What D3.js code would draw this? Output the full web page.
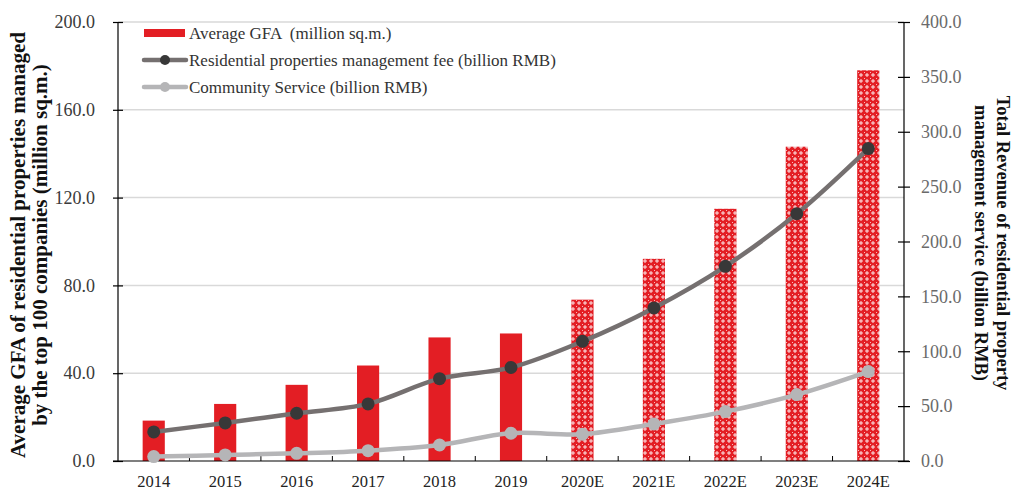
<!DOCTYPE html>
<html>
<head>
<meta charset="utf-8">
<script src="https://cdn.jsdelivr.net/npm/d3@7"></script>
<style>
  body { margin: 0; background: #fff; }
  svg { display: block; font-family: "Liberation Serif", "Times New Roman", serif; }
</style>
</head>
<body>
<div id="chart"></div>
<script>
// chart data
var years = ["2014", "2015", "2016", "2017", "2018", "2019", "2020E", "2021E", "2022E", "2023E", "2024E"];
var estimated = [false, false, false, false, false, false, true, true, true, true, true];
var avgGFA = [18.4, 26.0, 34.7, 43.5, 56.3, 58.1, 73.5, 92.1, 114.9, 143.2, 178.0];
var mgmtFee = [26.5, 34.7, 43.5, 52.0, 75.0, 85.2, 109.0, 139.5, 177.4, 225.3, 284.7];
var communityService = [4.0, 5.5, 7.0, 9.4, 14.6, 25.3, 24.4, 33.8, 45.0, 60.5, 81.5];
var leftTicks = [0, 40, 80, 120, 160, 200];
var rightTicks = [0, 50, 100, 150, 200, 250, 300, 350, 400];
var legendLabels = ["Average GFA  (million sq.m.)", "Residential properties management fee (billion RMB)", "Community Service (billion RMB)"];

var width = 1012, height = 493;
var margin = { top: 22, right: 108, bottom: 32, left: 118 };

var red = "#e31e24", darkLine = "#757070", darkDot = "#383838", lightLine = "#b5b5b7";

var svg = d3.select("#chart").append("svg")
    .attr("width", width)
    .attr("height", height);

// pattern for the estimated bars
var defs = svg.append("defs");
var pat = defs.append("pattern")
    .attr("id", "estPattern")
    .attr("patternUnits", "userSpaceOnUse")
    .attr("width", 6)
    .attr("height", 6);
pat.append("rect").attr("width", 6).attr("height", 6).attr("fill", red);
pat.append("rect").attr("x", 2.5).attr("y", 1).attr("width", 1).attr("height", 4).attr("fill", "#fff").attr("opacity", 0.85);
pat.append("rect").attr("x", 1).attr("y", 2.5).attr("width", 4).attr("height", 1).attr("fill", "#fff").attr("opacity", 0.85);
pat.append("rect").attr("x", 0).attr("y", 0).attr("width", 1).attr("height", 1).attr("fill", "#f7b9bb");

var x = d3.scaleBand()
    .domain(years)
    .range([margin.left, width - margin.right]);

var yLeft = d3.scaleLinear()
    .domain([0, 200])
    .range([height - margin.bottom, margin.top]);

var yRight = d3.scaleLinear()
    .domain([0, 400])
    .range([height - margin.bottom, margin.top]);

// gridlines
svg.append("g")
    .selectAll("line")
    .data(leftTicks.filter(function(d){ return d > 0; }))
    .join("line")
    .attr("x1", margin.left)
    .attr("x2", width - margin.right)
    .attr("y1", function(d){ return yLeft(d); })
    .attr("y2", function(d){ return yLeft(d); })
    .attr("stroke", "#d9d9d9")
    .attr("stroke-width", 1.5);

// bars
var barW = x.bandwidth() * 0.31;
svg.append("g")
    .selectAll("rect")
    .data(years)
    .join("rect")
    .attr("x", function(d){ return x(d) + (x.bandwidth() - barW) / 2; })
    .attr("y", function(d, i){ return yLeft(avgGFA[i]); })
    .attr("width", barW)
    .attr("height", function(d, i){ return yLeft(0) - yLeft(avgGFA[i]); })
    .attr("fill", function(d, i){ return estimated[i] ? "url(#estPattern)" : red; });

// axes
var leftAxis = svg.append("g")
    .attr("transform", `translate(${margin.left},0)`)
    .call(d3.axisLeft(yLeft).tickValues(leftTicks).tickFormat(d3.format(".1f")).tickSize(5).tickPadding(18));
leftAxis.selectAll(".tick line").attr("x1", 5).attr("x2", -5);

var rightAxis = svg.append("g")
    .attr("transform", `translate(${width - margin.right},0)`)
    .call(d3.axisRight(yRight).tickValues(rightTicks).tickFormat(d3.format(".1f")).tickSize(5).tickPadding(12));
rightAxis.selectAll(".tick line").attr("x1", -6).attr("x2", 6);

var bottomAxis = svg.append("g")
    .attr("transform", `translate(0,${height - margin.bottom})`)
    .call(d3.axisBottom(x).tickSize(0).tickPadding(14));

// ticks between categories on the x axis, pointing up
bottomAxis.selectAll(".sep")
    .data(years.slice(1))
    .join("line")
    .attr("class", "sep")
    .attr("x1", function(d){ return x(d); })
    .attr("x2", function(d){ return x(d); })
    .attr("y1", 0)
    .attr("y2", -5)
    .attr("stroke", "#000");

[leftAxis, rightAxis, bottomAxis].forEach(function(a){
    a.select(".domain").attr("stroke", "#000").attr("stroke-width", 1.2);
    a.selectAll(".tick line").attr("stroke", "#000").attr("stroke-width", 1.2);
    a.selectAll("text").style("font-family", "Liberation Serif, serif");
});
leftAxis.selectAll("text").attr("font-size", 18).attr("fill", "#3a3a3a");
rightAxis.selectAll("text").attr("font-size", 18).attr("fill", "#6a6a6a");
bottomAxis.selectAll("text").attr("font-size", 16.5).attr("fill", "#222");
leftAxis.select(".domain").attr("d", `M0,${yLeft(200)}V${yLeft(0)}`);
rightAxis.select(".domain").attr("d", `M0,${yRight(400)}V${yRight(0)}`);
bottomAxis.select(".domain").attr("d", `M${margin.left - 5},0H${width - margin.right + 5}`);

// lines
var cx = function(i){ return x(years[i]) + x.bandwidth() / 2; };

function drawSeries(values, lineColor, dotColor) {
    var line = d3.line()
        .x(function(d, i){ return cx(i); })
        .y(function(d){ return yRight(d); })
        .curve(d3.curveCatmullRom.alpha(0.5));
    svg.append("path")
        .datum(values)
        .attr("fill", "none")
        .attr("stroke", lineColor)
        .attr("stroke-width", 4.5)
        .attr("d", line);
    svg.append("g")
        .selectAll("circle")
        .data(values)
        .join("circle")
        .attr("cx", function(d, i){ return cx(i); })
        .attr("cy", function(d){ return yRight(d); })
        .attr("r", 6.5)
        .attr("fill", dotColor);
}
drawSeries(communityService, lightLine, lightLine);
drawSeries(mgmtFee, darkLine, darkDot);

// legend
var legend = svg.append("g");
var legY = [33, 60, 87];
legend.append("rect")
    .attr("x", 144).attr("y", legY[0] - 4)
    .attr("width", 41).attr("height", 8)
    .attr("fill", red);
[[darkLine, darkDot], [lightLine, lightLine]].forEach(function(c, k){
    legend.append("line")
        .attr("x1", 144).attr("x2", 186)
        .attr("y1", legY[k + 1]).attr("y2", legY[k + 1])
        .attr("stroke", c[0]).attr("stroke-width", 4.5)
        .attr("stroke-linecap", "round");
    legend.append("circle")
        .attr("cx", 165).attr("cy", legY[k + 1]).attr("r", 5)
        .attr("fill", c[1]);
});
legend.selectAll("text")
    .data(legendLabels)
    .join("text")
    .attr("x", 189)
    .attr("y", function(d, i){ return legY[i]; })
    .attr("dy", "0.35em")
    .attr("font-size", 17)
    .attr("fill", "#333")
    .attr("xml:space", "preserve")
    .text(function(d){ return d; });

// axis titles
var leftTitle = svg.append("text")
    .attr("transform", "translate(25,245) rotate(-90)")
    .attr("text-anchor", "middle")
    .attr("font-size", 21)
    .attr("font-weight", "bold")
    .attr("fill", "#111");
leftTitle.append("tspan").attr("x", 0).attr("y", 0).text("Average GFA of residential properties managed");
leftTitle.append("tspan").attr("x", 0).attr("y", 22).text("by the top 100 companies (million sq.m.)");

var rightTitle = svg.append("text")
    .attr("transform", "translate(997,243) rotate(90)")
    .attr("text-anchor", "middle")
    .attr("font-size", 18.5)
    .attr("font-weight", "bold")
    .attr("fill", "#111");
rightTitle.append("tspan").attr("x", 0).attr("y", 0).text("Total Revenue of residential property");
rightTitle.append("tspan").attr("x", 0).attr("y", 22).text("management service (billion RMB)");
</script>
</body>
</html>
